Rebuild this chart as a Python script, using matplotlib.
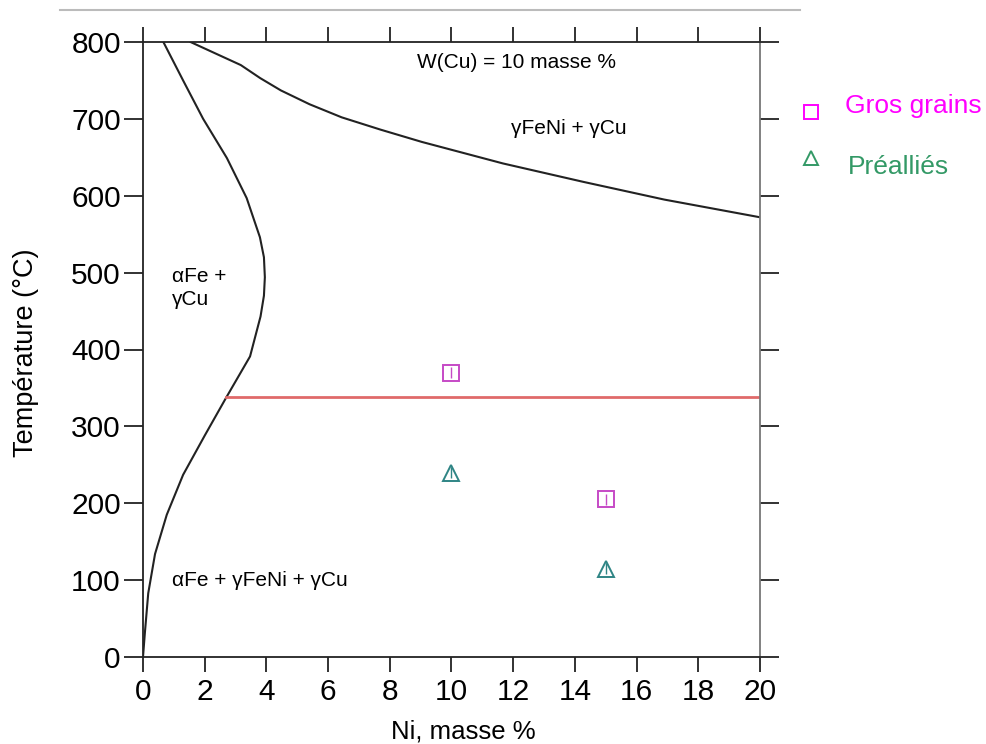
import numpy as np
import matplotlib
matplotlib.use("Agg")
import matplotlib.pyplot as plt
from matplotlib.lines import Line2D

plt.rcParams['font.family'] = ['Liberation Sans', 'DejaVu Sans']

# Phase boundaries
alpha_T = [0, 31, 83, 134, 185, 237, 288, 337, 391, 443, 470, 494, 520, 546, 597, 649, 700, 750, 800]
alpha_Ni = [0, 0.06, 0.17, 0.39, 0.77, 1.3, 2.0, 2.69, 3.47, 3.81, 3.92, 3.95, 3.92, 3.79, 3.36, 2.72, 1.95, 1.3, 0.66]

gamma_Ni = [1.54, 2.3, 3.17, 3.8, 4.47, 5.4, 6.44, 7.7, 9.04, 11.67, 14.28, 16.9, 20.0]
gamma_T = [800, 786, 770, 753, 737, 719, 702, 686, 670, 642, 618, 595, 572]

red_T = 338
red_Ni = [2.7, 20]

gros_Ni = [10, 15]
gros_T = [370, 205]
pre_Ni = [10, 15]
pre_T = [240, 115]

xticks = list(range(0, 21, 2))
yticks = list(range(0, 801, 100))

fig = plt.figure(figsize=(9.86, 7.44), dpi=100)
ax = fig.add_axes([143/986, 1-657/744, (760-143)/986, (657-42)/744])
ax.set_xlim(0, 20)
ax.set_ylim(0, 800)

ax.plot(alpha_Ni, alpha_T, color='#222222', lw=1.5, solid_joinstyle='round')
ax.plot(gamma_Ni, gamma_T, color='#222222', lw=1.5, solid_joinstyle='round')
ax.plot(red_Ni, [red_T, red_T], color='#e06a6a', lw=2)

ax.errorbar(gros_Ni, gros_T, yerr=7, fmt='s', mfc='none', mec='#c64ac6', ecolor='#c64ac6',
            ms=12, mew=1.4, elinewidth=1, capsize=0, zorder=5)
ax.errorbar(pre_Ni, pre_T, yerr=7, fmt='^', mfc='none', mec='#2f8585', ecolor='#2f8585',
            ms=12, mew=1.4, elinewidth=1, capsize=0, zorder=5)

ax.set_xticks(xticks)
ax.set_yticks(yticks)
ax.tick_params(axis='both', direction='out', length=14, width=1.3, labelsize=21.5, pad=2,
               top=True, right=True, labeltop=False, labelright=False, color='#222222')
ax.tick_params(axis='x', length=11, pad=4)
for s in ['left', 'bottom', 'top']:
    ax.spines[s].set_color('#222222')
    ax.spines[s].set_linewidth(1.3)
ax.spines['right'].set_color('#777777')
ax.spines['right'].set_linewidth(1.3)

ax.set_xlabel('Ni, masse %', fontsize=18.5)
ax.xaxis.set_label_coords(0.519, -0.121)
ax.xaxis.label.set_va('center')
ax.set_ylabel('Température (°C)', fontsize=19.5)
ax.yaxis.set_label_coords(-0.19, 0.495)
ax.yaxis.label.set_va('center')

ax.text(12.1, 773, 'W(Cu) = 10 masse %', fontsize=15, ha='center', va='center')
ax.text(13.8, 687, 'γFeNi + γCu', fontsize=15, ha='center', va='center')
ax.text(0.93, 480, 'αFe +\nγCu', fontsize=15, ha='left', va='center', linespacing=1.3)
ax.text(0.93, 100, 'αFe + γFeNi + γCu', fontsize=15, ha='left', va='center')

# legend outside
fig.add_artist(Line2D([811/986], [1-112/744], marker='s', mfc='none', mec='#ff00ff', ms=10, mew=1.4, transform=fig.transFigure))
fig.add_artist(Line2D([811/986], [1-158/744], marker='^', mfc='none', mec='#339966', ms=10, mew=1.4, transform=fig.transFigure))
fig.text(845/986, 1-106/744, 'Gros grains', color='#ff00ff', fontsize=19, va='center')
fig.text(848/986, 1-167/744, 'Préalliés', color='#339966', fontsize=19, va='center')

fig.add_artist(Line2D([60/986, 800/986], [1-10/744, 1-10/744], color='#bbbbbb', lw=1.5, transform=fig.transFigure))

fig.savefig('out.png', dpi=100, facecolor='white')
